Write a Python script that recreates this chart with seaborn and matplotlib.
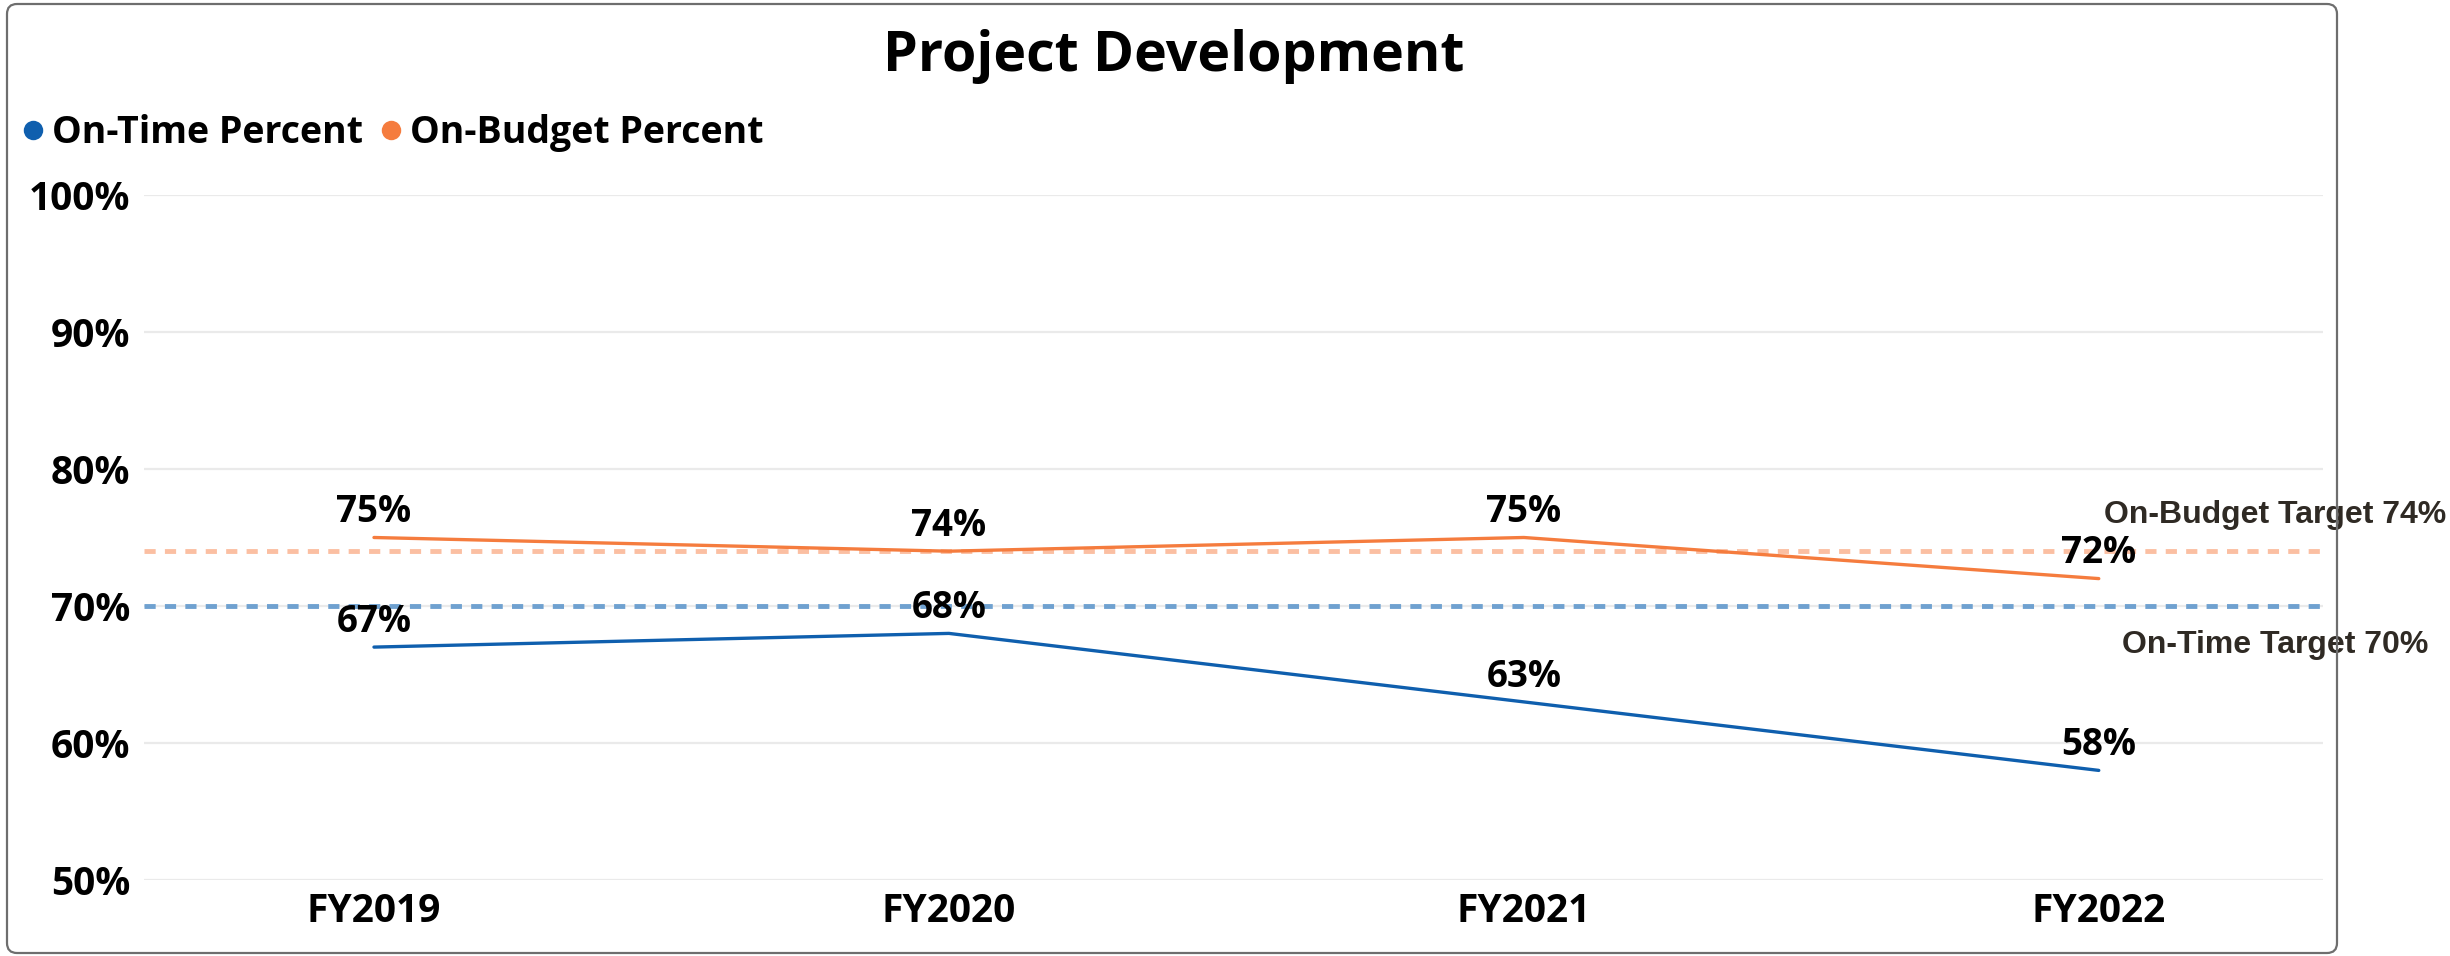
import matplotlib
matplotlib.use("Agg")
import matplotlib.pyplot as plt
import matplotlib.transforms as mtransforms
from matplotlib.patches import FancyBboxPatch
from matplotlib.lines import Line2D
import seaborn as sns
import pandas as pd

# ---- data ----
years = ["FY2019", "FY2020", "FY2021", "FY2022"]
on_time = [67, 68, 63, 58]
on_budget = [75, 74, 75, 72]
on_time_target = 70
on_budget_target = 74
y_ticks = [50, 60, 70, 80, 90, 100]
series_names = ["On-Time Percent", "On-Budget Percent"]

BLUE = "#0F5FAE"
ORANGE = "#F57C3E"
BLUE_T = "#6FA1D0"
ORANGE_T = "#FBBFA2"
TXT_T = "#2F2A24"

sns.set_theme(style="white")
plt.rcParams["font.family"] = ["Open Sans", "DejaVu Sans"]
plt.rcParams["text.color"] = "black"

W, H = 2450, 956
fig = plt.figure(figsize=(W / 100, H / 100), dpi=100)
ax = fig.add_axes([144 / W, 1 - 880 / H, (2323 - 144) / W, (880 - 195) / H])

df = pd.DataFrame({
    "Year": years * 2,
    "Value": on_time + on_budget,
    "Series": [series_names[0]] * len(years) + [series_names[1]] * len(years),
})

# target lines
ax.axhline(on_budget_target, color=ORANGE_T, lw=3.5, dashes=(2.3, 1.9), zorder=2)
ax.axhline(on_time_target, color=BLUE_T, lw=3.5, dashes=(2.3, 1.9), zorder=2)

sns.lineplot(data=df, x="Year", y="Value", hue="Series",
             palette={series_names[0]: BLUE, series_names[1]: ORANGE},
             lw=2.4, ax=ax, legend=False, sort=False, zorder=3)

ax.set_xlim(-0.4, 3.39)
ax.set_ylim(50, 100)
ax.set_yticks(y_ticks)
ax.set_yticklabels([f"{t}%" for t in y_ticks])
ax.set_xlabel("")
ax.set_ylabel("")
ax.yaxis.grid(True, color="#EAEAEA", lw=1.6, zorder=0)
ax.xaxis.grid(False)
for s in ax.spines.values():
    s.set_visible(False)
ax.tick_params(axis="both", length=0, labelsize=28)
ax.tick_params(axis="y", pad=10)
ax.tick_params(axis="x", pad=9)
for lab in ax.get_xticklabels() + ax.get_yticklabels():
    lab.set_fontweight("bold")
    lab.set_color("black")

# data labels
for vals in (on_time, on_budget):
    for i, v in enumerate(vals):
        ax.annotate(f"{v}%", (i, v), xytext=(0, 11), textcoords="offset points",
                    ha="center", va="baseline", fontsize=26.5, fontweight="bold",
                    color="black", zorder=5)

# target labels
tr = mtransforms.blended_transform_factory(ax.transAxes, ax.transData)
ax.annotate(f"On-Budget Target {on_budget_target}%", (0.978, on_budget_target),
            xycoords=tr, xytext=(0, 20), textcoords="offset points",
            ha="center", va="baseline", fontsize=23, fontweight="bold",
            family="Liberation Sans", color=TXT_T, annotation_clip=False)
ax.annotate(f"On-Time Target {on_time_target}%", (0.978, on_time_target),
            xycoords=tr, xytext=(0, -34), textcoords="offset points",
            ha="center", va="baseline", fontsize=23, fontweight="bold",
            family="Liberation Sans", color=TXT_T, annotation_clip=False)

# title
fig.text(1174 / W, 1 - 56 / H, "Project Development", ha="center", va="center",
         fontsize=40, fontweight="bold", color="black")

# legend
handles = [Line2D([], [], ls="", marker="o", markersize=14, color=c, markeredgewidth=0)
           for c in (BLUE, ORANGE)]
leg = fig.legend(handles, series_names, loc="center left", bbox_to_anchor=(22 / W, 1 - 133 / H),
                 ncol=2, frameon=False, handlelength=0.6, handletextpad=0.2,
                 columnspacing=0.45, borderpad=0, borderaxespad=0,
                 prop={"weight": "bold", "size": 27})
for t in leg.get_texts():
    t.set_color("black")

# outer rounded border
border = FancyBboxPatch((7, H - 953), 2337 - 7, 953 - 4,
                        boxstyle="round,pad=0,rounding_size=10",
                        transform=mtransforms.IdentityTransform(),
                        fill=False, ec="#6E6E6E", lw=1.6)
fig.add_artist(border)

fig.savefig("out.png", dpi=100)
